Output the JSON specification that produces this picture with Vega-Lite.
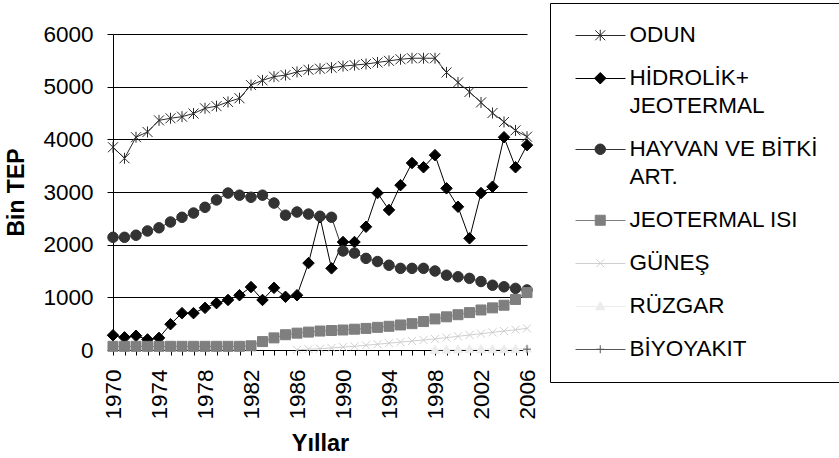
{
  "$schema": "https://vega.github.io/schema/vega-lite/v6.json",
  "autosize": {"type": "none"},
  "padding": {"left": 113, "top": 34, "right": 312, "bottom": 108},
  "width": 414,
  "height": 316,
  "background": "white",
  "config": {
    "view": {"stroke": null},
    "font": "Liberation Sans",
    "style": {"guide-label": {"lineHeight": 28}},
    "axis": {"labelFont": "Liberation Sans", "titleFont": "Liberation Sans", "labelColor": "black", "titleColor": "black", "domainColor": "black", "tickColor": "black"}
  },
  "datasets": {
    "rows": [
      {"year":1970,"series":"ODUN","value":3850},{"year":1971,"series":"ODUN","value":3640},{"year":1972,"series":"ODUN","value":4040},{"year":1973,"series":"ODUN","value":4140},{"year":1974,"series":"ODUN","value":4360},{"year":1975,"series":"ODUN","value":4400},{"year":1976,"series":"ODUN","value":4430},{"year":1977,"series":"ODUN","value":4490},{"year":1978,"series":"ODUN","value":4590},{"year":1979,"series":"ODUN","value":4630},
      {"year":1980,"series":"ODUN","value":4710},{"year":1981,"series":"ODUN","value":4780},{"year":1982,"series":"ODUN","value":5030},{"year":1983,"series":"ODUN","value":5120},{"year":1984,"series":"ODUN","value":5190},{"year":1985,"series":"ODUN","value":5220},{"year":1986,"series":"ODUN","value":5280},{"year":1987,"series":"ODUN","value":5320},{"year":1988,"series":"ODUN","value":5340},{"year":1989,"series":"ODUN","value":5360},
      {"year":1990,"series":"ODUN","value":5390},{"year":1991,"series":"ODUN","value":5410},{"year":1992,"series":"ODUN","value":5430},{"year":1993,"series":"ODUN","value":5460},{"year":1994,"series":"ODUN","value":5490},{"year":1995,"series":"ODUN","value":5520},{"year":1996,"series":"ODUN","value":5540},{"year":1997,"series":"ODUN","value":5540},{"year":1998,"series":"ODUN","value":5540},{"year":1999,"series":"ODUN","value":5270},
      {"year":2000,"series":"ODUN","value":5080},{"year":2001,"series":"ODUN","value":4900},{"year":2002,"series":"ODUN","value":4700},{"year":2003,"series":"ODUN","value":4500},{"year":2004,"series":"ODUN","value":4330},{"year":2005,"series":"ODUN","value":4170},{"year":2006,"series":"ODUN","value":4050},

      {"year":1970,"series":"HİDROLİK+ JEOTERMAL","value":280},{"year":1971,"series":"HİDROLİK+ JEOTERMAL","value":240},{"year":1972,"series":"HİDROLİK+ JEOTERMAL","value":270},{"year":1973,"series":"HİDROLİK+ JEOTERMAL","value":200},{"year":1974,"series":"HİDROLİK+ JEOTERMAL","value":230},{"year":1975,"series":"HİDROLİK+ JEOTERMAL","value":490},{"year":1976,"series":"HİDROLİK+ JEOTERMAL","value":700},{"year":1977,"series":"HİDROLİK+ JEOTERMAL","value":700},{"year":1978,"series":"HİDROLİK+ JEOTERMAL","value":800},{"year":1979,"series":"HİDROLİK+ JEOTERMAL","value":890},
      {"year":1980,"series":"HİDROLİK+ JEOTERMAL","value":950},{"year":1981,"series":"HİDROLİK+ JEOTERMAL","value":1040},{"year":1982,"series":"HİDROLİK+ JEOTERMAL","value":1195},{"year":1983,"series":"HİDROLİK+ JEOTERMAL","value":950},{"year":1984,"series":"HİDROLİK+ JEOTERMAL","value":1180},{"year":1985,"series":"HİDROLİK+ JEOTERMAL","value":1010},{"year":1986,"series":"HİDROLİK+ JEOTERMAL","value":1040},{"year":1987,"series":"HİDROLİK+ JEOTERMAL","value":1650},{"year":1988,"series":"HİDROLİK+ JEOTERMAL","value":2520},{"year":1989,"series":"HİDROLİK+ JEOTERMAL","value":1550},
      {"year":1990,"series":"HİDROLİK+ JEOTERMAL","value":2050},{"year":1991,"series":"HİDROLİK+ JEOTERMAL","value":2050},{"year":1992,"series":"HİDROLİK+ JEOTERMAL","value":2340},{"year":1993,"series":"HİDROLİK+ JEOTERMAL","value":2980},{"year":1994,"series":"HİDROLİK+ JEOTERMAL","value":2660},{"year":1995,"series":"HİDROLİK+ JEOTERMAL","value":3130},{"year":1996,"series":"HİDROLİK+ JEOTERMAL","value":3550},{"year":1997,"series":"HİDROLİK+ JEOTERMAL","value":3470},{"year":1998,"series":"HİDROLİK+ JEOTERMAL","value":3700},{"year":1999,"series":"HİDROLİK+ JEOTERMAL","value":3070},
      {"year":2000,"series":"HİDROLİK+ JEOTERMAL","value":2720},{"year":2001,"series":"HİDROLİK+ JEOTERMAL","value":2120},{"year":2002,"series":"HİDROLİK+ JEOTERMAL","value":2980},{"year":2003,"series":"HİDROLİK+ JEOTERMAL","value":3100},{"year":2004,"series":"HİDROLİK+ JEOTERMAL","value":4040},{"year":2005,"series":"HİDROLİK+ JEOTERMAL","value":3470},{"year":2006,"series":"HİDROLİK+ JEOTERMAL","value":3890},

      {"year":1970,"series":"HAYVAN VE BİTKİ ART.","value":2140},{"year":1971,"series":"HAYVAN VE BİTKİ ART.","value":2140},{"year":1972,"series":"HAYVAN VE BİTKİ ART.","value":2180},{"year":1973,"series":"HAYVAN VE BİTKİ ART.","value":2260},{"year":1974,"series":"HAYVAN VE BİTKİ ART.","value":2320},{"year":1975,"series":"HAYVAN VE BİTKİ ART.","value":2430},{"year":1976,"series":"HAYVAN VE BİTKİ ART.","value":2520},{"year":1977,"series":"HAYVAN VE BİTKİ ART.","value":2600},{"year":1978,"series":"HAYVAN VE BİTKİ ART.","value":2710},{"year":1979,"series":"HAYVAN VE BİTKİ ART.","value":2850},
      {"year":1980,"series":"HAYVAN VE BİTKİ ART.","value":2980},{"year":1981,"series":"HAYVAN VE BİTKİ ART.","value":2940},{"year":1982,"series":"HAYVAN VE BİTKİ ART.","value":2900},{"year":1983,"series":"HAYVAN VE BİTKİ ART.","value":2940},{"year":1984,"series":"HAYVAN VE BİTKİ ART.","value":2790},{"year":1985,"series":"HAYVAN VE BİTKİ ART.","value":2560},{"year":1986,"series":"HAYVAN VE BİTKİ ART.","value":2620},{"year":1987,"series":"HAYVAN VE BİTKİ ART.","value":2580},{"year":1988,"series":"HAYVAN VE BİTKİ ART.","value":2540},{"year":1989,"series":"HAYVAN VE BİTKİ ART.","value":2520},
      {"year":1990,"series":"HAYVAN VE BİTKİ ART.","value":1880},{"year":1991,"series":"HAYVAN VE BİTKİ ART.","value":1840},{"year":1992,"series":"HAYVAN VE BİTKİ ART.","value":1740},{"year":1993,"series":"HAYVAN VE BİTKİ ART.","value":1680},{"year":1994,"series":"HAYVAN VE BİTKİ ART.","value":1610},{"year":1995,"series":"HAYVAN VE BİTKİ ART.","value":1550},{"year":1996,"series":"HAYVAN VE BİTKİ ART.","value":1550},{"year":1997,"series":"HAYVAN VE BİTKİ ART.","value":1550},{"year":1998,"series":"HAYVAN VE BİTKİ ART.","value":1500},{"year":1999,"series":"HAYVAN VE BİTKİ ART.","value":1420},
      {"year":2000,"series":"HAYVAN VE BİTKİ ART.","value":1390},{"year":2001,"series":"HAYVAN VE BİTKİ ART.","value":1360},{"year":2002,"series":"HAYVAN VE BİTKİ ART.","value":1300},{"year":2003,"series":"HAYVAN VE BİTKİ ART.","value":1230},{"year":2004,"series":"HAYVAN VE BİTKİ ART.","value":1200},{"year":2005,"series":"HAYVAN VE BİTKİ ART.","value":1170},{"year":2006,"series":"HAYVAN VE BİTKİ ART.","value":1140},

      {"year":1970,"series":"JEOTERMAL ISI","value":70},{"year":1971,"series":"JEOTERMAL ISI","value":70},{"year":1972,"series":"JEOTERMAL ISI","value":70},{"year":1973,"series":"JEOTERMAL ISI","value":70},{"year":1974,"series":"JEOTERMAL ISI","value":70},{"year":1975,"series":"JEOTERMAL ISI","value":70},{"year":1976,"series":"JEOTERMAL ISI","value":70},{"year":1977,"series":"JEOTERMAL ISI","value":70},{"year":1978,"series":"JEOTERMAL ISI","value":70},{"year":1979,"series":"JEOTERMAL ISI","value":70},
      {"year":1980,"series":"JEOTERMAL ISI","value":70},{"year":1981,"series":"JEOTERMAL ISI","value":70},{"year":1982,"series":"JEOTERMAL ISI","value":80},{"year":1983,"series":"JEOTERMAL ISI","value":160},{"year":1984,"series":"JEOTERMAL ISI","value":230},{"year":1985,"series":"JEOTERMAL ISI","value":290},{"year":1986,"series":"JEOTERMAL ISI","value":320},{"year":1987,"series":"JEOTERMAL ISI","value":340},{"year":1988,"series":"JEOTERMAL ISI","value":360},{"year":1989,"series":"JEOTERMAL ISI","value":370},
      {"year":1990,"series":"JEOTERMAL ISI","value":380},{"year":1991,"series":"JEOTERMAL ISI","value":395},{"year":1992,"series":"JEOTERMAL ISI","value":410},{"year":1993,"series":"JEOTERMAL ISI","value":430},{"year":1994,"series":"JEOTERMAL ISI","value":450},{"year":1995,"series":"JEOTERMAL ISI","value":475},{"year":1996,"series":"JEOTERMAL ISI","value":500},{"year":1997,"series":"JEOTERMAL ISI","value":540},{"year":1998,"series":"JEOTERMAL ISI","value":590},{"year":1999,"series":"JEOTERMAL ISI","value":630},
      {"year":2000,"series":"JEOTERMAL ISI","value":670},{"year":2001,"series":"JEOTERMAL ISI","value":710},{"year":2002,"series":"JEOTERMAL ISI","value":760},{"year":2003,"series":"JEOTERMAL ISI","value":800},{"year":2004,"series":"JEOTERMAL ISI","value":850},{"year":2005,"series":"JEOTERMAL ISI","value":960},{"year":2006,"series":"JEOTERMAL ISI","value":1090},

      {"year":1986,"series":"GÜNEŞ","value":5},{"year":1987,"series":"GÜNEŞ","value":15},{"year":1988,"series":"GÜNEŞ","value":25},{"year":1989,"series":"GÜNEŞ","value":40},{"year":1990,"series":"GÜNEŞ","value":55},{"year":1991,"series":"GÜNEŞ","value":70},{"year":1992,"series":"GÜNEŞ","value":90},{"year":1993,"series":"GÜNEŞ","value":110},{"year":1994,"series":"GÜNEŞ","value":130},{"year":1995,"series":"GÜNEŞ","value":150},{"year":1996,"series":"GÜNEŞ","value":170},
      {"year":1997,"series":"GÜNEŞ","value":190},{"year":1998,"series":"GÜNEŞ","value":210},{"year":1999,"series":"GÜNEŞ","value":235},{"year":2000,"series":"GÜNEŞ","value":260},{"year":2001,"series":"GÜNEŞ","value":285},{"year":2002,"series":"GÜNEŞ","value":310},{"year":2003,"series":"GÜNEŞ","value":335},{"year":2004,"series":"GÜNEŞ","value":360},{"year":2005,"series":"GÜNEŞ","value":385},{"year":2006,"series":"GÜNEŞ","value":410},

      {"year":1998,"series":"RÜZGAR","value":5},{"year":1999,"series":"RÜZGAR","value":5},{"year":2000,"series":"RÜZGAR","value":10},{"year":2001,"series":"RÜZGAR","value":15},{"year":2002,"series":"RÜZGAR","value":15},{"year":2003,"series":"RÜZGAR","value":15},{"year":2004,"series":"RÜZGAR","value":15},{"year":2005,"series":"RÜZGAR","value":20},{"year":2006,"series":"RÜZGAR","value":30},

      {"year":2006,"series":"BİYOYAKIT","value":15}
    ]
  },
  "data": {"name": "rows"},
  "encoding": {
    "x": {
      "field": "year", "type": "quantitative",
      "scale": {"domain": [1970, 2006], "nice": false, "zero": false},
      "axis": {
        "values": [1970,1971,1972,1973,1974,1975,1976,1977,1978,1979,1980,1981,1982,1983,1984,1985,1986,1987,1988,1989,1990,1991,1992,1993,1994,1995,1996,1997,1998,1999,2000,2001,2002,2003,2004,2005,2006],
        "format": "d",
        "labelExpr": "datum.value % 4 == 2 ? datum.label : ''",
        "labelOverlap": false,
        "labelFlush": false,
        "labelAngle": -90,
        "labelAlign": "right",
        "labelBaseline": "middle",
        "labelFontSize": 22.5,
        "labelPadding": 14,
        "tickSize": 5,
        "grid": false,
        "title": "Yıllar",
        "titleFontSize": 23.5,
        "titleFontWeight": "bold",
        "titlePadding": 12
      }
    },
    "y": {
      "field": "value", "type": "quantitative",
      "scale": {"domain": [0, 6000], "nice": false},
      "axis": {
        "values": [0,1000,2000,3000,4000,5000,6000],
        "format": "d",
        "labelFontSize": 22.5,
        "labelPadding": 14,
        "tickSize": 6,
        "grid": true,
        "gridColor": "black",
        "gridOpacity": 1,
        "gridWidth": 1,
        "title": "Bin TEP",
        "titleFontSize": 23,
        "titleFontWeight": "bold",
        "titlePadding": 14
      }
    }
  },
  "layer": [
    {
      "mark": {"type": "line", "strokeWidth": 1},
      "encoding": {
        "stroke": {
          "field": "series", "type": "nominal",
          "scale": {
            "domain": ["ODUN","HİDROLİK+ JEOTERMAL","HAYVAN VE BİTKİ ART.","JEOTERMAL ISI","GÜNEŞ","RÜZGAR","BİYOYAKIT"],
            "range": ["#2a2a2a","#000000","#333333","#7f7f7f","#cfcfcf","#ececec","#555555"]
          },
          "legend": {
            "orient": "none",
            "legendX": 462,
            "legendY": -24,
            "title": null,
            "padding": 0,
            "symbolType": "stroke",
            "symbolSize": 2500,
            "symbolStrokeWidth": 1,
            "symbolOffset": 0,
            "labelOffset": 320,
            "labelFont": "Liberation Sans",
            "labelFontSize": 22.5,
            "labelColor": "transparent",
            "labelLimit": 400,
            "rowPadding": 6,
            "labelExpr": "datum.label == 'HİDROLİK+ JEOTERMAL' ? ['HİDROLİK+', 'JEOTERMAL'] : datum.label == 'HAYVAN VE BİTKİ ART.' ? ['HAYVAN VE BİTKİ', 'ART.'] : datum.label"
          }
        }
      }
    },
    {
      "mark": {"type": "point", "filled": true, "size": 100, "strokeWidth": 1, "opacity": 1},
      "encoding": {
        "color": {
          "field": "series", "type": "nominal",
          "scale": {
            "domain": ["ODUN","HİDROLİK+ JEOTERMAL","HAYVAN VE BİTKİ ART.","JEOTERMAL ISI","GÜNEŞ","RÜZGAR","BİYOYAKIT"],
            "range": ["#2a2a2a","#000000","#333333","#7f7f7f","#cfcfcf","#ececec","#555555"]
          },
          "legend": {
            "orient": "none",
            "legendX": 437,
            "legendY": -31,
            "title": null,
            "strokeColor": "black",
            "padding": 21,
            "symbolSize": 100,
            "symbolStrokeWidth": 1,
            "symbolOffset": 18,
            "labelOffset": 18,
            "labelFont": "Liberation Sans",
            "labelFontSize": 22.5,
            "labelColor": "black",
            "labelLimit": 400,
            "rowPadding": 20,
            "labelExpr": "datum.label == 'HİDROLİK+ JEOTERMAL' ? ['HİDROLİK+', 'JEOTERMAL'] : datum.label == 'HAYVAN VE BİTKİ ART.' ? ['HAYVAN VE BİTKİ', 'ART.'] : datum.label"
          }
        },
        "shape": {
          "field": "series", "type": "nominal",
          "scale": {
            "domain": ["ODUN","HİDROLİK+ JEOTERMAL","HAYVAN VE BİTKİ ART.","JEOTERMAL ISI","GÜNEŞ","RÜZGAR","BİYOYAKIT"],
            "range": [
              "M-1,-1L1,1M-1,1L1,-1M0,-1.1V1.1",
              "M0,-1.15L1.15,0L0,1.15L-1.15,0Z",
              "M1.05,0A1.05,1.05,0,1,1,-1.05,0A1.05,1.05,0,1,1,1.05,0Z",
              "M-1,-1H1V1H-1Z",
              "M-0.8,-0.8L0.8,0.8M-0.8,0.8L0.8,-0.8",
              "M0,-0.9L0.9,0.7H-0.9Z",
              "M-0.8,0H0.8M0,-0.8V0.8"
            ]
          },
          "legend": null
        },
        "stroke": {
          "field": "series", "type": "nominal",
          "scale": {
            "domain": ["ODUN","HİDROLİK+ JEOTERMAL","HAYVAN VE BİTKİ ART.","JEOTERMAL ISI","GÜNEŞ","RÜZGAR","BİYOYAKIT"],
            "range": ["#2a2a2a","#000000","#333333","#7f7f7f","#cfcfcf","#ececec","#555555"]
          },
          "legend": {
            "orient": "none",
            "legendX": 437,
            "legendY": -31,
            "title": null,
            "strokeColor": "black",
            "padding": 21,
            "symbolSize": 100,
            "symbolStrokeWidth": 1,
            "symbolOffset": 18,
            "labelOffset": 18,
            "labelFont": "Liberation Sans",
            "labelFontSize": 22.5,
            "labelColor": "black",
            "labelLimit": 400,
            "rowPadding": 20,
            "labelExpr": "datum.label == 'HİDROLİK+ JEOTERMAL' ? ['HİDROLİK+', 'JEOTERMAL'] : datum.label == 'HAYVAN VE BİTKİ ART.' ? ['HAYVAN VE BİTKİ', 'ART.'] : datum.label"
          }
        }
      }
    }
  ],
  "resolve": {
    "scale": {"stroke": "independent", "color": "independent", "shape": "independent"},
    "legend": {"stroke": "independent", "color": "independent", "shape": "independent"}
  }
}
